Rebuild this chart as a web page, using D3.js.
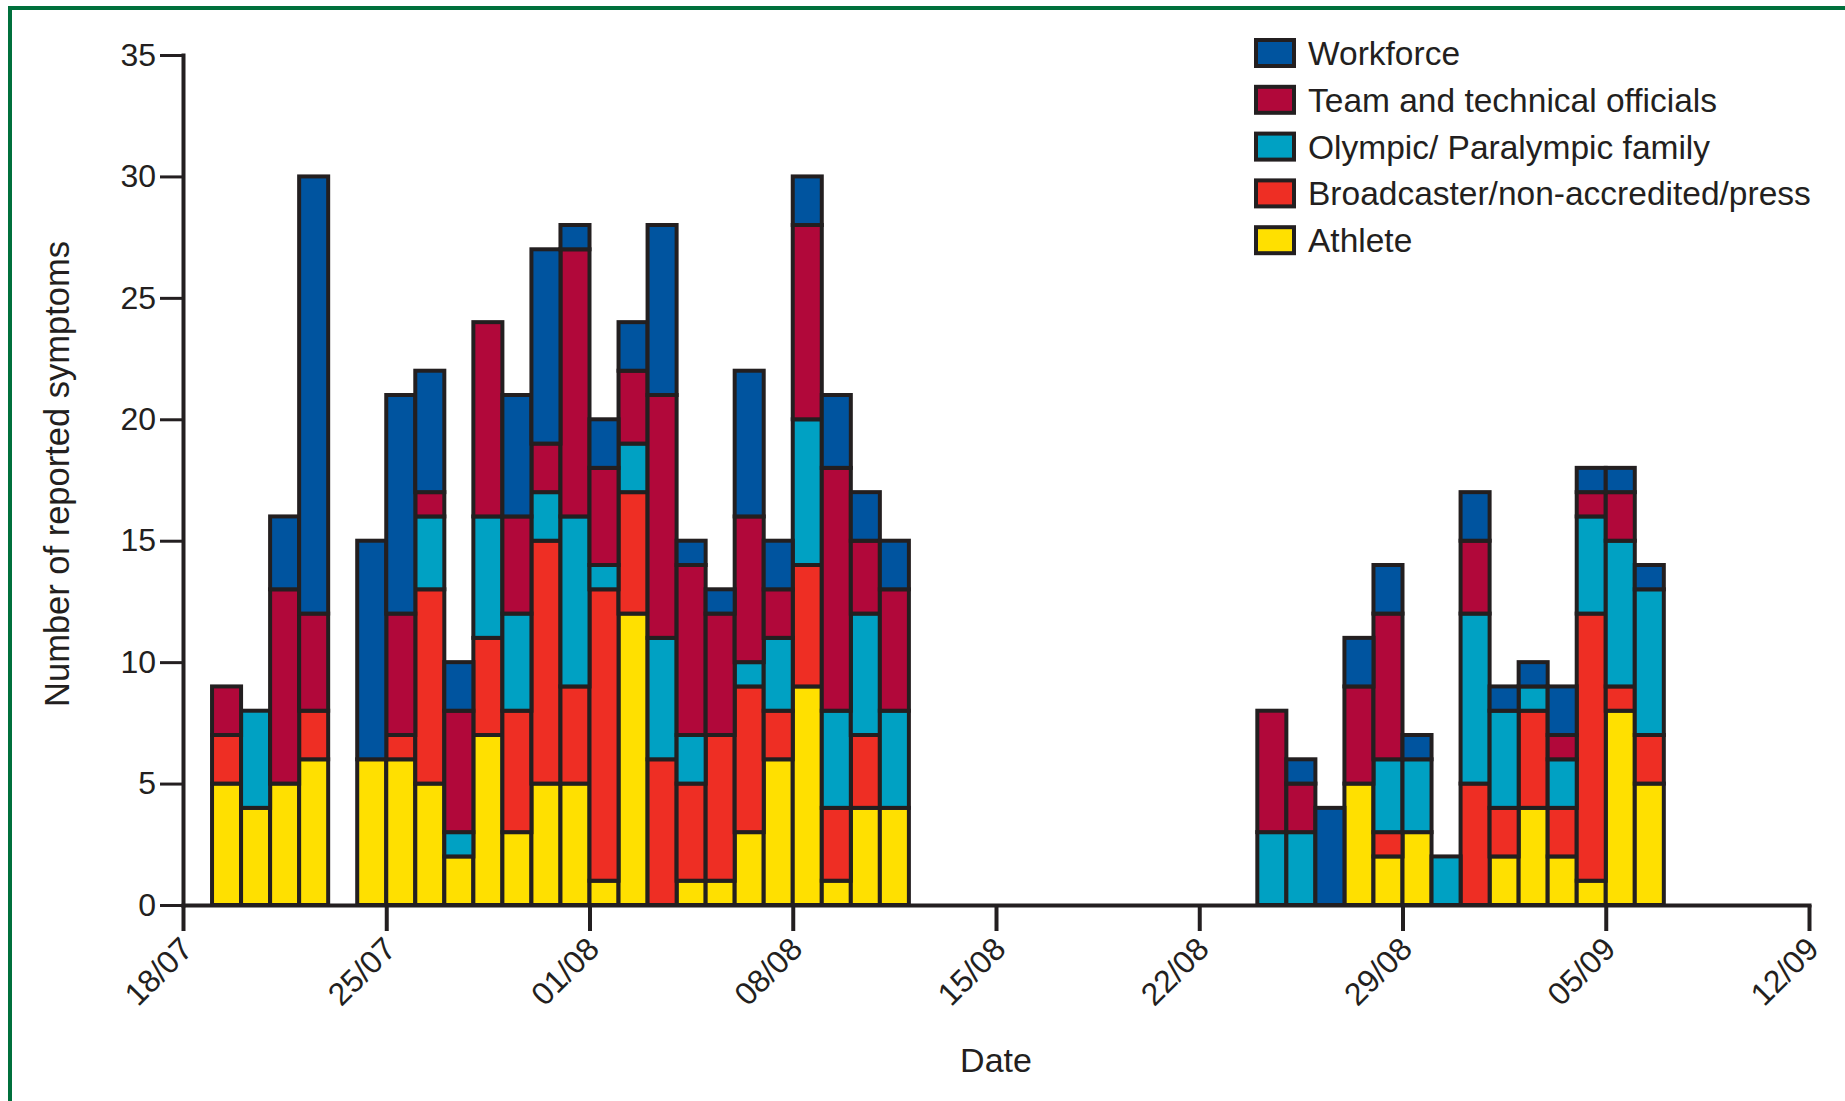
<!DOCTYPE html>
<html><head><meta charset="utf-8">
<script src="https://cdn.jsdelivr.net/npm/d3@7"></script>
<style>
body{margin:0;background:#fff}
svg{display:block}
text{font-family:"Liberation Sans",Arial,sans-serif;fill:#231f20}
</style>
</head><body>
<svg id="chart" width="1845" height="1101"></svg>
<script>
// ---- data ----
const dates = ["19/07","20/07","21/07","22/07","24/07","25/07","26/07","27/07","28/07","29/07","30/07","31/07",
  "01/08","02/08","03/08","04/08","05/08","06/08","07/08","08/08","09/08","10/08","11/08",
  "24/08","25/08","26/08","27/08","28/08","29/08","30/08","31/08","01/09","02/09","03/09","04/09","05/09","06/09"];
const athlete       = [5,4,5,6,6,6,5,2,7,3,5,5,1,12,0,1,1,3,6,9,1,4,4, 0,0,0,5,2,3,0,0,2,4,2,1,8,5];
const broadcaster   = [2,0,0,2,0,1,8,0,4,5,10,4,12,5,6,4,6,6,2,5,3,3,0, 0,0,0,0,1,0,0,5,2,4,2,11,1,2];
const olympicFamily = [0,4,0,0,0,0,3,1,5,4,2,7,1,2,5,2,0,1,3,6,4,5,4, 3,3,0,0,3,3,2,7,4,1,2,4,6,6];
const teamOfficials = [2,0,8,4,0,5,1,5,8,4,2,11,4,3,10,7,5,6,2,8,10,3,5, 5,2,0,4,6,0,0,3,0,0,1,1,2,0];
const workforce     = [0,0,3,18,9,9,5,2,0,5,8,1,2,2,7,1,1,6,2,2,3,2,2, 0,1,4,2,2,1,0,2,1,1,2,1,1,1];

const seriesKeys   = ["Athlete","Broadcaster/non-accredited/press","Olympic/ Paralympic family","Team and technical officials","Workforce"];
const seriesValues = [athlete, broadcaster, olympicFamily, teamOfficials, workforce];
const seriesColors = ["#ffe000","#ee2e24","#00a1c3","#b1083a","#00549f"];
const xTickLabels  = ["18/07","25/07","01/08","08/08","15/08","22/08","29/08","05/09","12/09"];
const yTickValues  = [0,5,10,15,20,25,30,35];
const yTitle = "Number of reported symptoms";
const xTitle = "Date";

// ---- setup ----
const svg = d3.select("#chart");
const parse = s => d3.utcParse("%d/%m/%Y")(s + "/2012");
const dark = "#231f20";

// frame
svg.append("path").attr("d","M10,1101V8H1845").attr("fill","none").attr("stroke","#00703c").attr("stroke-width",4);

const x = d3.scaleUtc().domain([parse(xTickLabels[0]), parse(xTickLabels[xTickLabels.length-1])]).range([183,1809]);
const y = d3.scaleLinear().domain([0,35]).range([905,55]);

const rows = dates.map((d,i) => {
  const r = {date: parse(d)};
  seriesKeys.forEach((k,j) => r[k] = seriesValues[j][i]);
  return r;
});
const stacked = d3.stack().keys(seriesKeys)(rows);

const layers = svg.append("g").selectAll("g").data(stacked).join("g")
  .attr("fill",(d,i)=>seriesColors[i]);
layers.selectAll("rect").data(d => d.filter(s => s[1] > s[0])).join("rect")
  .attr("x", d => x(d.data.date))
  .attr("width", d => x(d3.utcDay.offset(d.data.date,1)) - x(d.data.date))
  .attr("y", d => y(d[1]))
  .attr("height", d => y(d[0]) - y(d[1]))
  .attr("stroke", dark).attr("stroke-width", 4);

// y axis
const gy = svg.append("g").attr("transform","translate(183,0)")
  .call(d3.axisLeft(y).tickValues(yTickValues).tickSize(23).tickSizeOuter(0).tickPadding(4));
gy.select(".domain").attr("stroke",dark).attr("stroke-width",4).attr("stroke-linecap","square");
gy.selectAll(".tick line").attr("stroke",dark).attr("stroke-width",3);
gy.selectAll(".tick text").attr("font-size",32).attr("font-family",null).attr("fill",dark);

// x axis
const gx = svg.append("g").attr("transform","translate(0,905)")
  .call(d3.axisBottom(x).tickValues(xTickLabels.map(parse)).tickFormat((d,i)=>xTickLabels[i]).tickSize(26).tickSizeOuter(0));
gx.select(".domain").attr("stroke",dark).attr("stroke-width",4).attr("stroke-linecap","square");
gx.selectAll(".tick line").attr("stroke",dark).attr("stroke-width",4);
gx.selectAll(".tick text").attr("font-size",32).attr("font-family",null).attr("fill",dark)
  .attr("y",null).attr("dy",null).attr("text-anchor","end")
  .attr("transform","translate(11,46) rotate(-45)");

// titles
svg.append("text").attr("transform","translate(69,474) rotate(-90)").attr("text-anchor","middle")
  .attr("font-size",34.5).text(yTitle);
svg.append("text").attr("x",996).attr("y",1072).attr("text-anchor","middle").attr("font-size",34).text(xTitle);

// legend
const legendOrder = [4,3,2,1,0];
const lg = svg.append("g").selectAll("g").data(legendOrder).join("g")
  .attr("transform",(d,i)=>`translate(0,${53 + i*46.8})`);
lg.append("rect").attr("x",1256).attr("y",-13).attr("width",38).attr("height",26)
  .attr("fill",d=>seriesColors[d]).attr("stroke",dark).attr("stroke-width",4);
lg.append("text").attr("x",1308).attr("y",12).attr("font-size",33.5).text(d=>seriesKeys[d]);
</script>
</body></html>
